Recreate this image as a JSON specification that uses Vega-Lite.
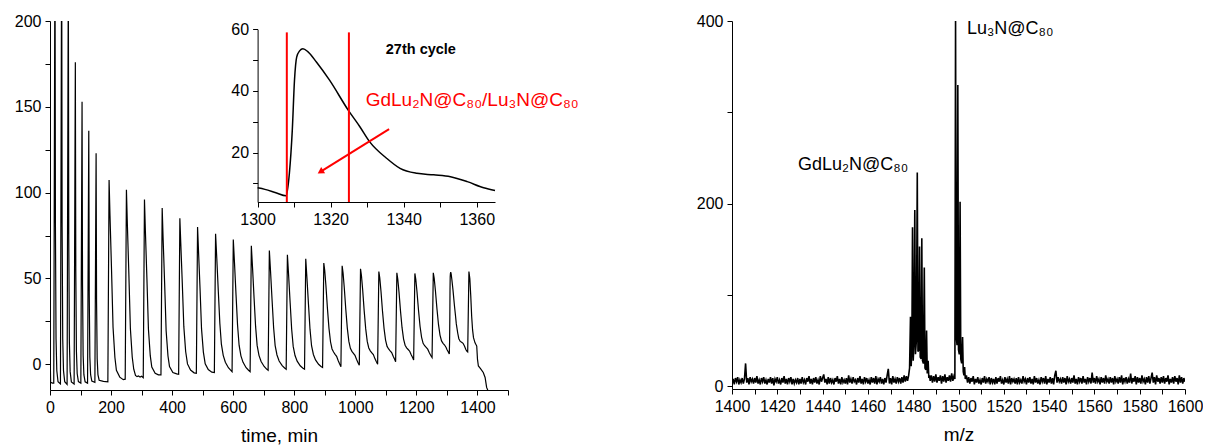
{
"$schema":"https://vega.github.io/schema/vega-lite/v6.json",
"padding":{"left":14,"top":13,"right":0,"bottom":0},
"config":{"view":{"stroke":null},"font":"Liberation Sans",
"axis":{"labelFont":"Liberation Sans","labelFontSize":16,"labelColor":"#000","domainColor":"#000","tickColor":"#000","tickSize":5,"labelPadding":4,"grid":false,"titleFont":"Liberation Sans","titleFontSize":19,"titleFontWeight":"normal","titleColor":"#000","labelFlush":false,"labelOverlap":false,"format":"d"}},
"datasets":{
"chrom":[{"t":0,"v":-1},{"t":0.7,"v":5},{"t":2,"v":-10.5},{"t":8,"v":-11},{"t":12.3,"v":-11},
{"t":16.3,"v":250},{"t":17.8,"v":80},{"t":19.8,"v":14.7},{"t":22.3,"v":-3.7},{"t":26.3,"v":-10.2},{"t":34.2,"v":-11.5},
{"t":38.2,"v":250},{"t":39.7,"v":80},{"t":41.7,"v":14.7},{"t":44.2,"v":-3.7},{"t":48.2,"v":-10.2},{"t":56,"v":-11.8},
{"t":60,"v":230},{"t":61.5,"v":73},{"t":63.5,"v":12.7},{"t":66,"v":-4.3},{"t":70,"v":-10.3},{"t":79,"v":-11.5},
{"t":83,"v":176},{"t":84.5,"v":54.5},{"t":86.5,"v":7.7},{"t":89,"v":-5.4},{"t":93,"v":-10.1},{"t":101,"v":-11},
{"t":105,"v":153},{"t":106.5,"v":46.4},{"t":108.5,"v":5.4},{"t":111,"v":-6.1},{"t":115,"v":-10.2},{"t":123,"v":-11},
{"t":127,"v":136},{"t":128.5,"v":40.8},{"t":130.5,"v":4.2},{"t":133,"v":-6.1},{"t":137,"v":-9.8},{"t":147,"v":-10.5},
{"t":151,"v":123},{"t":152.5,"v":36.6},{"t":154.5,"v":3.3},{"t":157,"v":-6},{"t":161,"v":-9.3},{"t":175,"v":-10},{"t":189.5,"v":-10.2},
{"t":193.5,"v":107.4},{"t":196.5,"v":86.5},{"t":201.5,"v":55.2},{"t":206.5,"v":21.5},{"t":212.5,"v":4.1},{"t":217.5,"v":-3.5},{"t":228.5,"v":-7.5},{"t":240,"v":-9},{"t":246.3,"v":-8.7},
{"t":250.3,"v":101.7},{"t":253.3,"v":82},{"t":258.3,"v":52.4},{"t":263.3,"v":20.7},{"t":269.3,"v":4.2},{"t":274.3,"v":-2.9},{"t":280,"v":-6.5},{"t":285,"v":-7.2},{"t":290,"v":-6.8},{"t":295,"v":-7.5},{"t":300,"v":-7},{"t":305.4,"v":-7.8},
{"t":309.4,"v":96},{"t":312.4,"v":77.6},{"t":317.4,"v":50},{"t":322.4,"v":20.4},{"t":328.4,"v":5},{"t":333.4,"v":-1.6},{"t":344.4,"v":-5.2},{"t":355,"v":-6.2},{"t":363.4,"v":-6.2},
{"t":367.4,"v":91},{"t":370.4,"v":73.6},{"t":375.4,"v":47.4},{"t":380.4,"v":19.4},{"t":386.4,"v":4.8},{"t":391.4,"v":-1.4},{"t":402.4,"v":-4.8},{"t":415,"v":-5.6},{"t":421.3,"v":-5.8},
{"t":425.3,"v":85},{"t":428.3,"v":70.6},{"t":433.3,"v":47.1},{"t":438.3,"v":21.9},{"t":444.3,"v":7.4},{"t":450.3,"v":0.2},{"t":460.3,"v":-3.4},{"t":472,"v":-5},{"t":479.3,"v":-5.2},
{"t":483.3,"v":80},{"t":486.3,"v":66.4},{"t":491.3,"v":44.4},{"t":496.3,"v":20.6},{"t":502.3,"v":7.1},{"t":508.3,"v":0.3},{"t":518.3,"v":-3.1},{"t":530,"v":-4.6},{"t":538.3,"v":-4.8},
{"t":542.3,"v":76},{"t":546.3,"v":61.5},{"t":551.3,"v":42.2},{"t":556.3,"v":23.7},{"t":561.3,"v":11.7},{"t":567.3,"v":5.2},{"t":574.3,"v":1.2},{"t":584.3,"v":-2},{"t":592.3,"v":-3.6},{"t":596.3,"v":-4.4},
{"t":600.3,"v":72.7},{"t":604.3,"v":58.8},{"t":609.3,"v":40.4},{"t":614.3,"v":22.7},{"t":619.3,"v":11.1},{"t":625.3,"v":4.9},{"t":632.3,"v":1.1},{"t":642.3,"v":-2},{"t":650.3,"v":-3.5},{"t":655.4,"v":-4.3},
{"t":659.4,"v":69},{"t":663.4,"v":56},{"t":668.4,"v":38.5},{"t":673.4,"v":21.9},{"t":678.4,"v":11},{"t":684.4,"v":5.2},{"t":691.4,"v":1.6},{"t":701.4,"v":-1.3},{"t":709.4,"v":-2.8},{"t":714.4,"v":-3.5},
{"t":718.4,"v":66.3},{"t":722.4,"v":53.8},{"t":727.4,"v":37.2},{"t":732.4,"v":21.3},{"t":737.4,"v":10.9},{"t":743.4,"v":5.4},{"t":750.4,"v":1.9},{"t":760.4,"v":-0.8},{"t":768.4,"v":-2.2},{"t":773.5,"v":-2.9},
{"t":777.5,"v":63.8},{"t":781.5,"v":51.8},{"t":786.5,"v":35.8},{"t":791.5,"v":20.4},{"t":796.5,"v":10.4},{"t":802.5,"v":5.1},{"t":809.5,"v":1.8},{"t":819.5,"v":-0.9},{"t":827.5,"v":-2.2},{"t":833.6,"v":-2.9},
{"t":837.6,"v":61.4},{"t":841.6,"v":50},{"t":846.6,"v":34.8},{"t":851.6,"v":20.3},{"t":856.6,"v":10.8},{"t":862.6,"v":5.7},{"t":869.6,"v":2.5},{"t":879.6,"v":0},{"t":887.6,"v":-1.3},{"t":892.7,"v":-1.9},
{"t":896.7,"v":59},{"t":899.7,"v":54.8},{"t":903.7,"v":45.7},{"t":908.7,"v":32.4},{"t":913.7,"v":20.9},{"t":918.7,"v":13.1},{"t":923.7,"v":8.9},{"t":928.7,"v":7.1},{"t":933.7,"v":5.8},{"t":938.7,"v":4.6},{"t":943.7,"v":2.2},{"t":948.7,"v":0.1},{"t":952.8,"v":-1.4},
{"t":956.8,"v":57.4},{"t":959.8,"v":53.3},{"t":963.8,"v":44.6},{"t":968.8,"v":31.9},{"t":973.8,"v":20.9},{"t":978.8,"v":13.3},{"t":983.8,"v":9.3},{"t":988.8,"v":7.5},{"t":993.8,"v":6.4},{"t":998.8,"v":5.2},{"t":1003.8,"v":2.9},{"t":1008.8,"v":0.9},{"t":1013,"v":-0.6},
{"t":1017,"v":55.6},{"t":1020,"v":51.7},{"t":1024,"v":43.4},{"t":1029,"v":31.1},{"t":1034,"v":20.6},{"t":1039,"v":13.3},{"t":1044,"v":9.5},{"t":1049,"v":7.8},{"t":1054,"v":6.7},{"t":1059,"v":5.6},{"t":1064,"v":3.3},{"t":1069,"v":1.4},{"t":1073,"v":0},
{"t":1077,"v":54},{"t":1080,"v":50.3},{"t":1084,"v":42.5},{"t":1089,"v":30.9},{"t":1094,"v":20.9},{"t":1099,"v":14.1},{"t":1104,"v":10.4},{"t":1109,"v":8.9},{"t":1114,"v":7.8},{"t":1119,"v":6.8},{"t":1124,"v":4.7},{"t":1129,"v":2.8},{"t":1132,"v":1.5},
{"t":1136,"v":53.3},{"t":1139,"v":49.7},{"t":1143,"v":42.1},{"t":1148,"v":30.9},{"t":1153,"v":21.3},{"t":1158,"v":14.7},{"t":1163,"v":11.1},{"t":1168,"v":9.6},{"t":1173,"v":8.6},{"t":1178,"v":7.6},{"t":1183,"v":5.5},{"t":1188,"v":3.8},{"t":1191,"v":2.5},
{"t":1195,"v":52.9},{"t":1198,"v":49.5},{"t":1202,"v":42.1},{"t":1207,"v":31.3},{"t":1212,"v":22},{"t":1217,"v":15.7},{"t":1222,"v":12.2},{"t":1227,"v":10.8},{"t":1232,"v":9.8},{"t":1237,"v":8.8},{"t":1242,"v":6.8},{"t":1247,"v":5.1},{"t":1251.3,"v":3.9},
{"t":1255.3,"v":53.3},{"t":1258.3,"v":50},{"t":1262.3,"v":42.8},{"t":1267.3,"v":32.3},{"t":1272.3,"v":23.2},{"t":1277.3,"v":17},{"t":1282.3,"v":13.6},{"t":1287.3,"v":12.2},{"t":1292.3,"v":11.2},{"t":1297.3,"v":9.8},{"t":1300,"v":8.6},{"t":1303.2,"v":7.6},{"t":1307.8,"v":6},
{"t":1308.7,"v":13.3},{"t":1309.5,"v":27.3},{"t":1310.1,"v":43.5},{"t":1310.7,"v":51},{"t":1311.5,"v":53},{"t":1312.4,"v":53.7},{"t":1313.8,"v":52.7},{"t":1316.1,"v":49.4},{"t":1319.7,"v":43.5},{"t":1324.8,"v":33.8},{"t":1328,"v":28.4},{"t":1330.7,"v":23.5},{"t":1335.3,"v":18.2},{"t":1339,"v":14.9},{"t":1343.6,"v":13.3},{"t":1348.2,"v":12.8},{"t":1352.8,"v":12.2},{"t":1357.4,"v":10.6},{"t":1361.9,"v":8.6},{"t":1365.1,"v":7.7},{"t":1368,"v":7.2},
{"t":1372,"v":54},{"t":1375,"v":50},{"t":1378,"v":40},{"t":1381,"v":28},{"t":1384,"v":20},{"t":1387,"v":15.5},{"t":1392,"v":12.5},{"t":1397.6,"v":10.6},{"t":1400,"v":3},{"t":1403,"v":-1},{"t":1410,"v":-2.5},{"t":1419,"v":-4.8},{"t":1425,"v":-7.7},{"t":1430,"v":-13.5},{"t":1436,"v":-16}],
"inset":[{"t":1300,"v":8.6},{"t":1302,"v":8.1},{"t":1305,"v":7},{"t":1307.8,"v":6},{"t":1308.7,"v":13.3},{"t":1309.5,"v":27.3},{"t":1310.1,"v":43.5},{"t":1310.7,"v":51},{"t":1311.5,"v":53},{"t":1312.4,"v":53.7},{"t":1313.8,"v":52.7},{"t":1316.1,"v":49.4},{"t":1319.7,"v":43.5},{"t":1324.8,"v":33.8},{"t":1328,"v":28.4},{"t":1330.7,"v":23.5},{"t":1335.3,"v":18.2},{"t":1339,"v":14.9},{"t":1343.6,"v":13.3},{"t":1348.2,"v":12.8},{"t":1352.8,"v":12.2},{"t":1357.4,"v":10.6},{"t":1361.9,"v":8.6},{"t":1365,"v":7.7}],
"cuts":[{"t":1308,"v":4,"v2":59},{"t":1325,"v":4,"v2":59}],
"arrow":[{"t":1336,"v":27.6},{"t":1317.6,"v":14.1}],
"head":[{"t":1317.2,"v":13.8}],
"insetText":[{"t":1335.1,"v":52.1,"label":"27th cycle"}],
"redText":[{"t":1329.6,"v":35.1,"label":"GdLu₂N@C₈₀/Lu₃N@C₈₀"}],
"ms":[{"m":1400,"i":3},{"m":1400.5,"i":8},{"m":1401,"i":2},{"m":1401.5,"i":9},{"m":1402,"i":5},{"m":1402.5,"i":10},{"m":1403,"i":2},{"m":1403.5,"i":7},{"m":1404,"i":4},{"m":1404.5,"i":9},
{"m":1405,"i":3},{"m":1405.5,"i":8},{"m":1406,"i":25},{"m":1406.5,"i":4},{"m":1407,"i":9},{"m":1407.5,"i":2},{"m":1408,"i":10},{"m":1408.5,"i":5},{"m":1409,"i":8},{"m":1409.5,"i":3},
{"m":1410,"i":9},{"m":1410.5,"i":4},{"m":1411,"i":11},{"m":1411.5,"i":3},{"m":1412,"i":7},{"m":1412.5,"i":2},{"m":1413,"i":9},{"m":1413.5,"i":5},{"m":1414,"i":10},{"m":1414.5,"i":3},
{"m":1415,"i":7},{"m":1415.5,"i":2},{"m":1416,"i":8},{"m":1416.5,"i":4},{"m":1417,"i":10},{"m":1417.5,"i":3},{"m":1418,"i":9},{"m":1418.5,"i":1},{"m":1419,"i":8},{"m":1419.5,"i":5},
{"m":1420,"i":10},{"m":1420.5,"i":3},{"m":1421,"i":7},{"m":1421.5,"i":2},{"m":1422,"i":9},{"m":1422.5,"i":4},{"m":1423,"i":11},{"m":1423.5,"i":3},{"m":1424,"i":8},{"m":1424.5,"i":2},
{"m":1425,"i":9},{"m":1425.5,"i":5},{"m":1426,"i":10},{"m":1426.5,"i":2},{"m":1427,"i":8},{"m":1427.5,"i":3},{"m":1428,"i":7},{"m":1428.5,"i":4},{"m":1429,"i":9},{"m":1429.5,"i":2},
{"m":1430,"i":8},{"m":1430.5,"i":3},{"m":1431,"i":10},{"m":1431.5,"i":4},{"m":1432,"i":7},{"m":1432.5,"i":2},{"m":1433,"i":9},{"m":1433.5,"i":5},{"m":1434,"i":11},{"m":1434.5,"i":3},
{"m":1435,"i":8},{"m":1435.5,"i":2},{"m":1436,"i":9},{"m":1436.5,"i":4},{"m":1437,"i":10},{"m":1437.5,"i":3},{"m":1438,"i":7},{"m":1438.5,"i":2},{"m":1439,"i":11},{"m":1439.5,"i":5},
{"m":1440,"i":9},{"m":1440.5,"i":13},{"m":1441,"i":4},{"m":1441.5,"i":8},{"m":1442,"i":2},{"m":1442.5,"i":10},{"m":1443,"i":3},{"m":1443.5,"i":9},{"m":1444,"i":4},{"m":1444.5,"i":7},
{"m":1445,"i":2},{"m":1445.5,"i":9},{"m":1446,"i":5},{"m":1446.5,"i":11},{"m":1447,"i":3},{"m":1447.5,"i":8},{"m":1448,"i":2},{"m":1448.5,"i":10},{"m":1449,"i":4},{"m":1449.5,"i":7},
{"m":1450,"i":3},{"m":1450.5,"i":9},{"m":1451,"i":2},{"m":1451.5,"i":12},{"m":1452,"i":4},{"m":1452.5,"i":8},{"m":1453,"i":3},{"m":1453.5,"i":10},{"m":1454,"i":5},{"m":1454.5,"i":7},
{"m":1455,"i":2},{"m":1455.5,"i":9},{"m":1456,"i":4},{"m":1456.5,"i":11},{"m":1457,"i":3},{"m":1457.5,"i":8},{"m":1458,"i":2},{"m":1458.5,"i":10},{"m":1459,"i":5},{"m":1459.5,"i":9},
{"m":1460,"i":3},{"m":1460.5,"i":7},{"m":1461,"i":2},{"m":1461.5,"i":10},{"m":1462,"i":4},{"m":1462.5,"i":9},{"m":1463,"i":3},{"m":1463.5,"i":11},{"m":1464,"i":2},{"m":1464.5,"i":8},
{"m":1465,"i":5},{"m":1465.5,"i":10},{"m":1466,"i":3},{"m":1466.5,"i":8},{"m":1467,"i":2},{"m":1467.5,"i":9},{"m":1468,"i":4},{"m":1468.5,"i":12},{"m":1469,"i":19},{"m":1469.5,"i":3},
{"m":1470,"i":9},{"m":1470.5,"i":2},{"m":1471,"i":11},{"m":1471.5,"i":4},{"m":1472,"i":8},{"m":1472.5,"i":3},{"m":1473,"i":10},{"m":1473.5,"i":5},{"m":1474,"i":9},{"m":1474.5,"i":3},
{"m":1475,"i":10},{"m":1475.5,"i":4},{"m":1476,"i":12},{"m":1476.5,"i":5},{"m":1477,"i":11},{"m":1477.5,"i":6},
{"m":1478,"i":12},{"m":1478.4,"i":20},{"m":1478.8,"i":76},{"m":1479.1,"i":22},{"m":1479.4,"i":40},{"m":1479.7,"i":174},{"m":1480,"i":28},{"m":1480.3,"i":45},{"m":1480.7,"i":193},{"m":1481,"i":35},{"m":1481.4,"i":50},{"m":1481.8,"i":234},{"m":1482.1,"i":38},{"m":1482.5,"i":40},{"m":1482.8,"i":153},{"m":1483.1,"i":32},{"m":1483.5,"i":30},{"m":1483.8,"i":162},{"m":1484.1,"i":28},{"m":1484.5,"i":25},{"m":1484.9,"i":130},{"m":1485.2,"i":20},{"m":1485.6,"i":18},{"m":1485.9,"i":61},{"m":1486.2,"i":14},{"m":1486.6,"i":28},{"m":1486.9,"i":9},{"m":1487.2,"i":12},
{"m":1487.5,"i":6},{"m":1488,"i":12},{"m":1488.5,"i":4},{"m":1489,"i":11},{"m":1489.5,"i":5},{"m":1490,"i":13},{"m":1490.5,"i":4},{"m":1491,"i":10},{"m":1491.5,"i":6},{"m":1492,"i":12},{"m":1492.5,"i":3},{"m":1493,"i":11},{"m":1493.5,"i":5},{"m":1494,"i":13},{"m":1494.5,"i":4},{"m":1495,"i":10},{"m":1495.5,"i":6},{"m":1496,"i":12},{"m":1496.5,"i":5},{"m":1497,"i":14},{"m":1497.5,"i":6},{"m":1498,"i":11},
{"m":1498.4,"i":8},{"m":1498.7,"i":400},{"m":1499,"i":55},{"m":1499.35,"i":45},{"m":1499.7,"i":330},{"m":1500,"i":40},{"m":1500.35,"i":35},{"m":1500.7,"i":202},{"m":1501,"i":30},{"m":1501.4,"i":25},{"m":1501.8,"i":54},{"m":1502.1,"i":16},{"m":1502.4,"i":12},{"m":1502.7,"i":21},{"m":1503,"i":8},
{"m":1503.5,"i":12},{"m":1504,"i":4},{"m":1504.5,"i":10},
{"m":1505,"i":3},{"m":1505.5,"i":9},{"m":1506,"i":5},{"m":1506.5,"i":11},{"m":1507,"i":2},{"m":1507.5,"i":8},{"m":1508,"i":4},{"m":1508.5,"i":10},{"m":1509,"i":3},{"m":1509.5,"i":7},
{"m":1510,"i":2},{"m":1510.5,"i":9},{"m":1511,"i":4},{"m":1511.5,"i":11},{"m":1512,"i":3},{"m":1512.5,"i":8},{"m":1513,"i":5},{"m":1513.5,"i":10},{"m":1514,"i":2},{"m":1514.5,"i":9},
{"m":1515,"i":4},{"m":1515.5,"i":8},{"m":1516,"i":2},{"m":1516.5,"i":10},{"m":1517,"i":3},{"m":1517.5,"i":9},{"m":1518,"i":5},{"m":1518.5,"i":11},{"m":1519,"i":3},{"m":1519.5,"i":7},
{"m":1520,"i":2},{"m":1520.5,"i":10},{"m":1521,"i":4},{"m":1521.5,"i":8},{"m":1522,"i":3},{"m":1522.5,"i":11},{"m":1523,"i":2},{"m":1523.5,"i":9},{"m":1524,"i":5},{"m":1524.5,"i":8},
{"m":1525,"i":3},{"m":1525.5,"i":9},{"m":1526,"i":2},{"m":1526.5,"i":10},{"m":1527,"i":4},{"m":1527.5,"i":7},{"m":1528,"i":3},{"m":1528.5,"i":11},{"m":1529,"i":5},{"m":1529.5,"i":8},
{"m":1530,"i":2},{"m":1530.5,"i":9},{"m":1531,"i":4},{"m":1531.5,"i":10},{"m":1532,"i":3},{"m":1532.5,"i":8},{"m":1533,"i":2},{"m":1533.5,"i":11},{"m":1534,"i":4},{"m":1534.5,"i":9},
{"m":1535,"i":3},{"m":1535.5,"i":7},{"m":1536,"i":2},{"m":1536.5,"i":10},{"m":1537,"i":5},{"m":1537.5,"i":9},{"m":1538,"i":3},{"m":1538.5,"i":11},{"m":1539,"i":2},{"m":1539.5,"i":8},
{"m":1540,"i":4},{"m":1540.5,"i":10},{"m":1541,"i":3},{"m":1541.5,"i":9},{"m":1542,"i":2},{"m":1542.5,"i":12},{"m":1543,"i":17},{"m":1543.5,"i":4},{"m":1544,"i":10},{"m":1544.5,"i":5},
{"m":1545,"i":8},{"m":1545.5,"i":3},{"m":1546,"i":10},{"m":1546.5,"i":4},{"m":1547,"i":9},{"m":1547.5,"i":2},{"m":1548,"i":11},{"m":1548.5,"i":5},{"m":1549,"i":8},{"m":1549.5,"i":3},
{"m":1550,"i":9},{"m":1550.5,"i":4},{"m":1551,"i":12},{"m":1551.5,"i":3},{"m":1552,"i":8},{"m":1552.5,"i":2},{"m":1553,"i":10},{"m":1553.5,"i":5},{"m":1554,"i":9},{"m":1554.5,"i":3},
{"m":1555,"i":11},{"m":1555.5,"i":4},{"m":1556,"i":8},{"m":1556.5,"i":2},{"m":1557,"i":10},{"m":1557.5,"i":5},{"m":1558,"i":9},{"m":1558.5,"i":3},{"m":1559,"i":15},{"m":1559.5,"i":4},
{"m":1560,"i":9},{"m":1560.5,"i":3},{"m":1561,"i":11},{"m":1561.5,"i":5},{"m":1562,"i":8},{"m":1562.5,"i":2},{"m":1563,"i":10},{"m":1563.5,"i":4},{"m":1564,"i":9},{"m":1564.5,"i":3},
{"m":1565,"i":12},{"m":1565.5,"i":5},{"m":1566,"i":8},{"m":1566.5,"i":3},{"m":1567,"i":10},{"m":1567.5,"i":4},{"m":1568,"i":9},{"m":1568.5,"i":2},{"m":1569,"i":11},{"m":1569.5,"i":5},
{"m":1570,"i":8},{"m":1570.5,"i":3},{"m":1571,"i":10},{"m":1571.5,"i":4},{"m":1572,"i":12},{"m":1572.5,"i":2},{"m":1573,"i":9},{"m":1573.5,"i":5},{"m":1574,"i":10},{"m":1574.5,"i":3},
{"m":1575,"i":8},{"m":1575.5,"i":4},{"m":1576,"i":14},{"m":1576.5,"i":3},{"m":1577,"i":9},{"m":1577.5,"i":5},{"m":1578,"i":11},{"m":1578.5,"i":2},{"m":1579,"i":10},{"m":1579.5,"i":4},
{"m":1580,"i":9},{"m":1580.5,"i":3},{"m":1581,"i":12},{"m":1581.5,"i":5},{"m":1582,"i":8},{"m":1582.5,"i":2},{"m":1583,"i":10},{"m":1583.5,"i":4},{"m":1584,"i":11},{"m":1584.5,"i":3},
{"m":1585,"i":9},{"m":1585.5,"i":15},{"m":1586,"i":4},{"m":1586.5,"i":10},{"m":1587,"i":2},{"m":1587.5,"i":12},{"m":1588,"i":5},{"m":1588.5,"i":9},{"m":1589,"i":3},{"m":1589.5,"i":10},
{"m":1590,"i":4},{"m":1590.5,"i":11},{"m":1591,"i":3},{"m":1591.5,"i":9},{"m":1592,"i":5},{"m":1592.5,"i":12},{"m":1593,"i":2},{"m":1593.5,"i":8},{"m":1594,"i":4},{"m":1594.5,"i":10},
{"m":1595,"i":3},{"m":1595.5,"i":11},{"m":1596,"i":5},{"m":1596.5,"i":9},{"m":1597,"i":2},{"m":1597.5,"i":12},{"m":1598,"i":4},{"m":1598.5,"i":10},{"m":1599,"i":3},{"m":1599.5,"i":9},{"m":1600,"i":5}],
"msText":[{"m":1503.7,"i":386.2,"label":"Lu₃N@C₈₀"},{"m":1429.1,"i":236.5,"label":"GdLu₂N@C₈₀"}]
},
"hconcat":[
{"width":458,"height":369,
"layer":[
{"data":{"name":"chrom"},"mark":{"type":"line","color":"#000","strokeWidth":1.2,"clip":true},
"encoding":{
"x":{"field":"t","type":"quantitative","scale":{"domain":[0,1500],"nice":false,"zero":false},"axis":{"values":[0,100,200,300,400,500,600,700,800,900,1000,1100,1200,1300,1400,1500],"labelExpr":"datum.value % 200 === 0 && datum.value <= 1400 ? datum.label : ''","title":"time, min","titlePadding":11}},
"y":{"field":"v","type":"quantitative","scale":{"domain":[-15,200],"nice":false,"zero":false},"axis":{"values":[0,25,50,75,100,125,150,175,200],"labelExpr":"datum.value % 50 === 0 ? datum.label : ''","title":null}}}},
{"encoding":{
"x":{"field":"t","type":"quantitative","scale":{"domain":[1300,1365],"range":[207.6,445],"nice":false,"zero":false},"axis":{"orient":"bottom","offset":-188,"values":[1300,1310,1320,1330,1340,1350,1360],"labelExpr":"datum.value % 20 === 0 ? datum.label : ''","title":null}},
"y":{"field":"v","type":"quantitative","scale":{"domain":[4,60],"range":[181,8.3],"nice":false,"zero":false},"axis":{"orient":"left","offset":-207.6,"values":[10,20,30,40,50,60],"labelExpr":"datum.value % 20 === 0 ? datum.label : ''","title":null}}},
"layer":[
{"data":{"name":"inset"},"mark":{"type":"line","color":"#000","strokeWidth":1.5,"interpolate":"monotone"}},
{"data":{"name":"cuts"},"mark":{"type":"rule","color":"#ff0000","strokeWidth":2},"encoding":{"y2":{"field":"v2"}}},
{"data":{"name":"arrow"},"mark":{"type":"line","color":"#ff0000","strokeWidth":2}},
{"data":{"name":"head"},"mark":{"type":"point","shape":"triangle-up","filled":true,"color":"#ff0000","opacity":1,"size":55,"angle":238}},
{"data":{"name":"insetText"},"mark":{"type":"text","align":"left","baseline":"alphabetic","fontSize":14.5,"fontWeight":"bold","color":"#000"},"encoding":{"text":{"field":"label"}}},
{"data":{"name":"redText"},"mark":{"type":"text","align":"left","baseline":"alphabetic","fontSize":19,"color":"#ff0000"},"encoding":{"text":{"field":"label"}}}
]}
],
"resolve":{"scale":{"x":"independent","y":"independent"}}
},
{"width":453,"height":368,
"encoding":{
"x":{"field":"m","type":"quantitative","scale":{"domain":[1400,1600],"nice":false,"zero":false},"axis":{"values":[1400,1410,1420,1430,1440,1450,1460,1470,1480,1490,1500,1510,1520,1530,1540,1550,1560,1570,1580,1590,1600],"labelExpr":"datum.value % 20 === 0 ? datum.label : ''","title":"m/z","titlePadding":11}},
"y":{"field":"i","type":"quantitative","scale":{"domain":[-3,400],"nice":false,"zero":false},"axis":{"values":[0,100,200,300,400],"labelExpr":"datum.value % 200 === 0 ? datum.label : ''","title":null}}},
"layer":[
{"data":{"name":"ms"},"mark":{"type":"line","color":"#000","strokeWidth":1.6,"clip":true}},
{"data":{"name":"msText"},"mark":{"type":"text","align":"left","baseline":"alphabetic","fontSize":18,"color":"#000"},"encoding":{"text":{"field":"label"}}}
]}
],
"spacing":224,
"bounds":"flush"
}
